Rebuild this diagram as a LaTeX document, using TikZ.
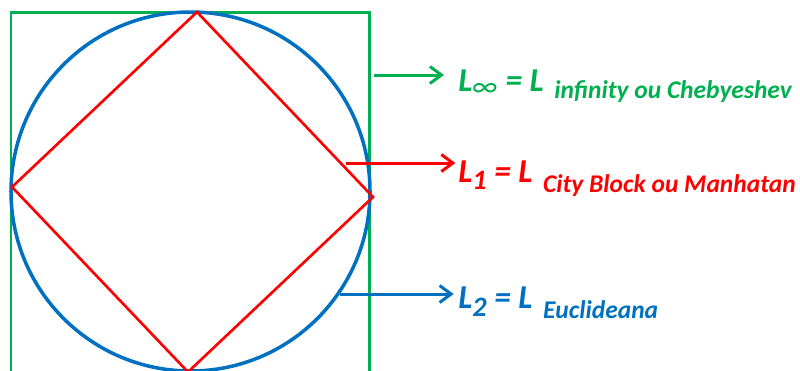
\documentclass[tikz,border=0pt]{standalone}
\usepackage{fontspec}
\setmainfont{Carlito}
\usepackage{xcolor}
\usetikzlibrary{arrows.meta}
\definecolor{normgreen}{RGB}{0,176,80}
\definecolor{normred}{RGB}{255,0,0}
\definecolor{normblue}{RGB}{0,112,192}
\newcommand{\idx}[3]{\raisebox{#1}{\fontsize{#2}{#2}\selectfont #3}}

\begin{document}
\begin{tikzpicture}[
    x=0.02cm, y=-0.02cm,
    norm/.style={anchor=base west, inner sep=0pt,
      font=\fontsize{19}{22}\selectfont\bfseries\itshape},
    arr/.style={-{Straight Barb[length=2.3mm, width=3.4mm]}, line width=1.7pt}]

  \useasboundingbox (0,0) rectangle (800,370);
  \clip (0,0) rectangle (800,370);

  % the three unit balls
  \draw[normgreen, line width=1.7pt] (11,380) -- (11,12) -- (369,12) -- (369,380);
  \draw[normblue, line width=2pt] (190.5,191.5) circle[radius=179.5];
  \draw[normred, line width=1.5pt] (197,12) -- (12,187) -- (188,372) -- (373,197) -- cycle;

  % labels
  \node[norm, text=normgreen] (linf) at (458,91)
    {L\idx{-3pt}{17}{\mdseries ∞} = L\hspace{6pt}\idx{-4.5pt}{14.5}{infinity ou Chebyeshev}};
  \node[norm, text=normred] (lone) at (458,182)
    {L\idx{-4.5pt}{16}{1} = L\hspace{6pt}\idx{-5.7pt}{14.5}{City Block ou Manhatan}};
  \node[norm, text=normblue] (ltwo) at (458,308)
    {L\idx{-5pt}{16}{2} = L\hspace{6pt}\idx{-5.7pt}{14.5}{Euclideana}};

  \coordinate (gfrom) at (374,75);
  \coordinate (rfrom) at (346,163);
  \coordinate (bfrom) at (340,294);
  \draw[arr, normgreen, shorten >=8pt] (gfrom) -- (gfrom -| linf.west);
  \draw[arr, normred, shorten >=1.5pt] (rfrom) -- (rfrom -| lone.west);
  \draw[arr, normblue, shorten >=2.5pt] (bfrom) -- (bfrom -| ltwo.west);
\end{tikzpicture}
\end{document}
